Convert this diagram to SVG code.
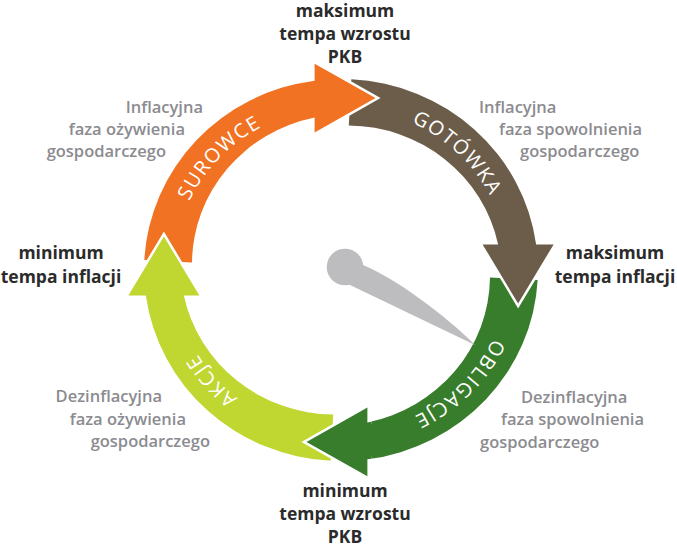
<svg xmlns="http://www.w3.org/2000/svg" width="677" height="548" viewBox="0 0 677 548">
<style>
.arw{stroke:#ffffff;stroke-width:5;stroke-linejoin:miter;paint-order:stroke}
.ring{font-family:"Open Sans","Noto Sans",sans-serif;font-size:20px;fill:#ffffff;letter-spacing:1.5px;text-anchor:middle}
.key{font-family:"Open Sans","Noto Sans",sans-serif;font-size:17.5px;font-weight:700;fill:#2b2b2b;text-anchor:middle}
.ph{font-family:"Open Sans","Noto Sans",sans-serif;font-size:16.5px;font-weight:600;fill:#8b8b90}
.end{text-anchor:end}
</style>
<defs>
<path id="arw" d="M-193.73,-10.15 A194,194 0 0 1 -26,-192.25 L-26,-209.5 L34,-174.5 L-26,-139.5 L-26,-154.83 A152,152 0 0 0 -146.8,-7.69 Z"/>
<path id="tp" d="M-165,0 A165,165 0 1 1 165,0 A165,165 0 1 1 -165,0"/>
<clipPath id="cl"><rect x="-60" y="115" width="90" height="120"/></clipPath>
</defs>

<g id="connectors" transform="translate(341 270) scale(1.015 0.985)">
  <use id="arrow-obligacje" href="#arw" class="arw" fill="#387d2c" transform="rotate(180)"/>
  <use id="arrow-gotowka" href="#arw" class="arw" fill="#6b5d49" transform="rotate(90)"/>
  <use id="arrow-surowce" href="#arw" class="arw" fill="#f07222" transform="rotate(0)"/>
  <use id="arrow-akcje" href="#arw" class="arw" fill="#c0d631" transform="rotate(270)"/>
  <g clip-path="url(#cl)">
    <use href="#arw" class="arw" fill="#387d2c" transform="rotate(180)"/>
  </g>
  <text class="ring"><textPath href="#tp" startOffset="125.3">SUROWCE</textPath></text>
  <text class="ring"><textPath href="#tp" startOffset="385.9">GOTÓWKA</textPath></text>
  <text class="ring"><textPath href="#tp" startOffset="647.1">OBLIGACJE</textPath></text>
  <text class="ring"><textPath href="#tp" startOffset="917.5">AKCJE</textPath></text>
</g>

<g id="needle" fill="#bdbdbf">
  <circle cx="345" cy="267" r="18.3"/>
  <path d="M363,265 C395,278 445,315 475,345 L350,285 L345,267 Z"/>
</g>

<g id="max-gdp">
  <text class="key" x="345" y="17">maksimum</text>
  <text class="key" x="345" y="40">tempa wzrostu</text>
  <text class="key" x="345" y="63">PKB</text>
</g>
<g id="min-gdp">
  <text class="key" x="345" y="497">minimum</text>
  <text class="key" x="345" y="520">tempa wzrostu</text>
  <text class="key" x="345" y="543">PKB</text>
</g>
<g id="min-infl">
  <text class="key" x="61" y="259">minimum</text>
  <text class="key" x="61" y="283">tempa inflacji</text>
</g>
<g id="max-infl">
  <text class="key" x="615" y="259">maksimum</text>
  <text class="key" x="615" y="283">tempa inflacji</text>
</g>

<g id="phase-tl">
  <text class="ph end" x="203" y="113">Inflacyjna</text>
  <text class="ph end" x="185" y="135">faza ożywienia</text>
  <text class="ph end" x="166" y="157">gospodarczego</text>
</g>
<g id="phase-tr">
  <text class="ph" x="479" y="113">Inflacyjna</text>
  <text class="ph" x="499" y="135">faza spowolnienia</text>
  <text class="ph" x="520" y="157">gospodarczego</text>
</g>
<g id="phase-bl">
  <text class="ph end" x="162" y="402">Dezinflacyjna</text>
  <text class="ph end" x="186" y="425">faza ożywienia</text>
  <text class="ph end" x="210" y="447">gospodarczego</text>
</g>
<g id="phase-br">
  <text class="ph" x="521" y="403">Dezinflacyjna</text>
  <text class="ph" x="501" y="425">faza spowolnienia</text>
  <text class="ph" x="480" y="448">gospodarczego</text>
</g>
</svg>
